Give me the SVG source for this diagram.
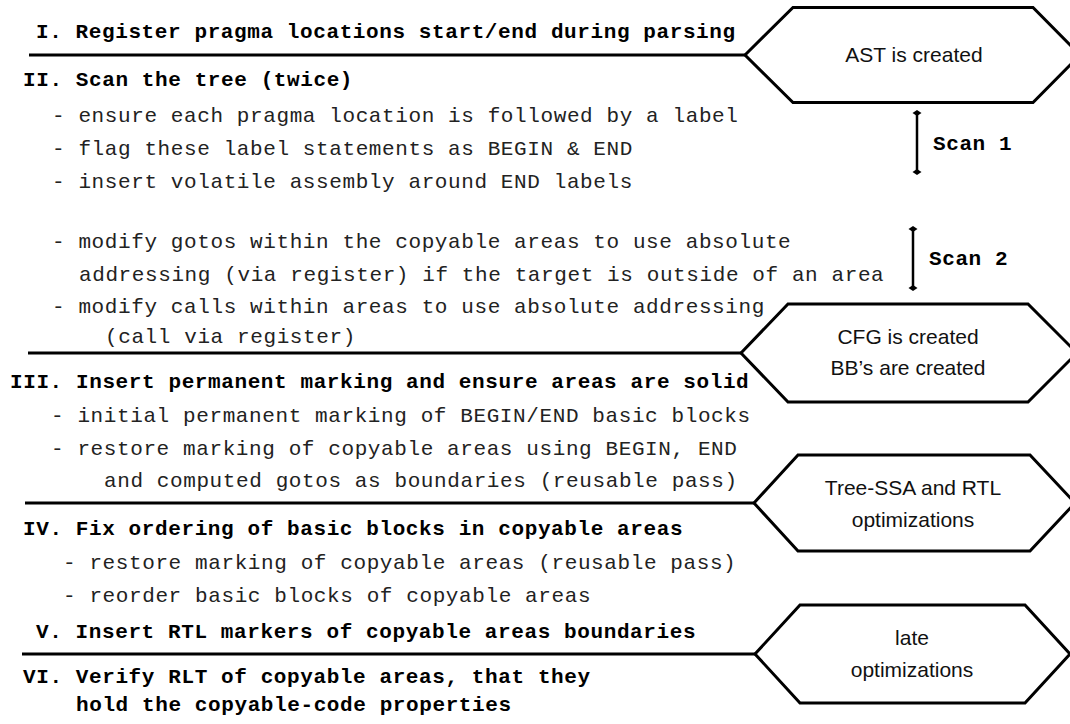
<svg xmlns="http://www.w3.org/2000/svg" width="1070" height="724" viewBox="0 0 1070 724">
<style>
.m{font-family:"Liberation Mono","Courier New",monospace;font-size:21px;letter-spacing:0.6px;fill:#222}
.b{font-family:"Liberation Mono","Courier New",monospace;font-size:21px;letter-spacing:0.6px;font-weight:bold;fill:#000}
.h{fill:#fff;stroke:#000;stroke-width:3;stroke-linejoin:miter}
.ht{font-family:"Liberation Sans",Arial,sans-serif;font-size:21px;fill:#111;text-anchor:middle}
.ln{stroke:#000;stroke-width:3;fill:none}
.bar{stroke:#000;stroke-width:2.5;fill:none}
.cap{fill:#000}
</style>
<rect width="1070" height="724" fill="#fff"/>
<g id="connectors">
<line class="ln" x1="29" y1="55" x2="745" y2="55"/>
<line class="ln" x1="28" y1="353" x2="741" y2="353"/>
<line class="ln" x1="25" y1="503" x2="754" y2="503"/>
<line class="ln" x1="22" y1="654" x2="755" y2="654"/>
</g>
<g id="scan1">
<line class="bar" x1="917" y1="113" x2="917" y2="172"/>
<path class="cap" d="M912.5,113 L917,110 L921.5,113 L917,116 Z"/>
<path class="cap" d="M912.5,172 L917,169 L921.5,172 L917,175 Z"/>
<text class="b" x="933" y="150">Scan 1</text>
</g>
<g id="scan2">
<line class="bar" x1="913" y1="229" x2="913" y2="288"/>
<path class="cap" d="M908.5,229 L913,226 L917.5,229 L913,232 Z"/>
<path class="cap" d="M908.5,288 L913,285 L917.5,288 L913,291 Z"/>
<text class="b" x="929" y="265">Scan 2</text>
</g>
<g id="hex-ast">
<polygon class="h" points="745,55 793,7.5 1033,7.5 1080,55 1033,102.5 793,102.5"/>
<text class="ht" x="914" y="62">AST is created</text>
</g>
<g id="hex-cfg">
<polygon class="h" points="741,353 788,304 1028,304 1077,353 1028,402 788,402"/>
<text class="ht" x="908" y="344">CFG is created</text>
<text class="ht" x="908" y="375">BB’s are created</text>
</g>
<g id="hex-tree">
<polygon class="h" points="754,503 798,455 1030,455 1075,503 1030,551 798,551"/>
<text class="ht" x="913" y="495">Tree-SSA and RTL</text>
<text class="ht" x="913" y="527">optimizations</text>
</g>
<g id="hex-late">
<polygon class="h" points="755,654 800,605 1025,605 1070,654 1025,703 800,703"/>
<text class="ht" x="912" y="645">late</text>
<text class="ht" x="912" y="677">optimizations</text>
</g>
<g id="text-I">
<text class="b" x="36" y="38">I. Register pragma locations start/end during parsing</text>
</g>
<g id="text-II">
<text class="b" x="23" y="86">II. Scan the tree (twice)</text>
<text class="m" x="52" y="122">- ensure each pragma location is followed by a label</text>
<text class="m" x="52" y="155">- flag these label statements as BEGIN &amp; END</text>
<text class="m" x="52" y="188">- insert volatile assembly around END labels</text>
<text class="m" x="52" y="248">- modify gotos within the copyable areas to use absolute</text>
<text class="m" x="79" y="281">addressing (via register) if the target is outside of an area</text>
<text class="m" x="52" y="313">- modify calls within areas to use absolute addressing</text>
<text class="m" x="105" y="343">(call via register)</text>
</g>
<g id="text-III">
<text class="b" x="10" y="388">III. Insert permanent marking and ensure areas are solid</text>
<text class="m" x="51" y="422">- initial permanent marking of BEGIN/END basic blocks</text>
<text class="m" x="51" y="455">- restore marking of copyable areas using BEGIN, END</text>
<text class="m" x="104" y="487">and computed gotos as boundaries (reusable pass)</text>
</g>
<g id="text-IV">
<text class="b" x="23" y="535">IV. Fix ordering of basic blocks in copyable areas</text>
<text class="m" x="63" y="569">- restore marking of copyable areas (reusable pass)</text>
<text class="m" x="63" y="602">- reorder basic blocks of copyable areas</text>
</g>
<g id="text-V">
<text class="b" x="36" y="638">V. Insert RTL markers of copyable areas boundaries</text>
</g>
<g id="text-VI">
<text class="b" x="23" y="683">VI. Verify RLT of copyable areas, that they</text>
<text class="b" x="76" y="711">hold the copyable-code properties</text>
</g>
</svg>
